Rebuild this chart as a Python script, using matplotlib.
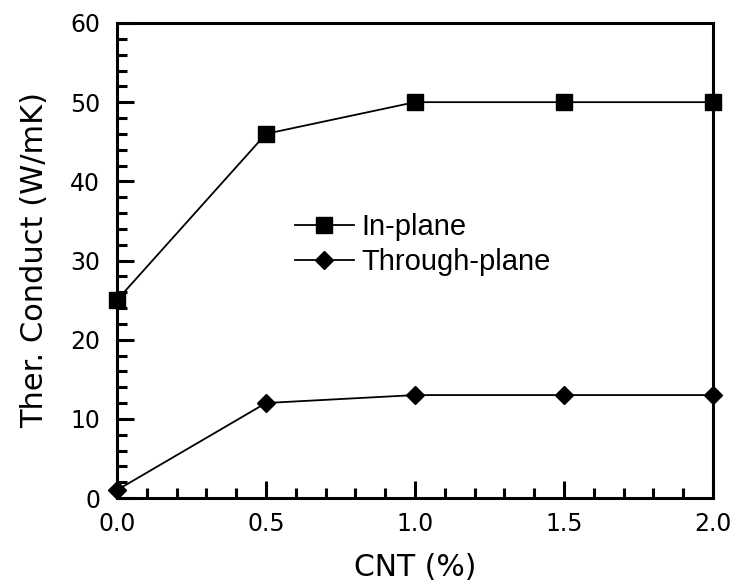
import matplotlib
matplotlib.use("Agg")
import matplotlib.pyplot as plt
from matplotlib.ticker import MultipleLocator

cnt = [0.0, 0.5, 1.0, 1.5, 2.0]
in_plane = [25, 46, 50, 50, 50]
through_plane = [1, 12, 13, 13, 13]

fig = plt.figure(figsize=(7.36, 5.86), dpi=100)
ax = fig.add_axes([117 / 736, 1 - 498 / 586, (713 - 117) / 736, (498 - 23) / 586])

ax.plot(cnt, in_plane, color="black", lw=1.3, marker="s", ms=12,
        label="In-plane", clip_on=False, zorder=3)
ax.plot(cnt, through_plane, color="black", lw=1.3, marker="D", ms=9.5,
        label="Through-plane", clip_on=False, zorder=3)

ax.set_xlim(0, 2.0)
ax.set_ylim(0, 60)
ax.xaxis.set_major_locator(MultipleLocator(0.5))
ax.xaxis.set_minor_locator(MultipleLocator(0.1))
ax.yaxis.set_major_locator(MultipleLocator(10))
ax.yaxis.set_minor_locator(MultipleLocator(2))
ax.xaxis.set_major_formatter(plt.FuncFormatter(lambda v, p: f"{v:.1f}"))

for s in ax.spines.values():
    s.set_linewidth(2.2)
ax.tick_params(which="both", direction="in", width=2.2, top=False, right=False,
               labelsize=17)
ax.tick_params(axis="x", pad=10)
ax.tick_params(axis="y", pad=12)
ax.tick_params(which="major", length=12)
ax.tick_params(which="minor", length=7)

ax.set_xlabel("CNT (%)", fontsize=21.5, labelpad=12)
ax.set_ylabel("Ther. Conduct (W/mK)", fontsize=22, labelpad=15)

leg = ax.legend(loc="upper left", bbox_to_anchor=(0.299, 0.60), frameon=False,
                prop={"family": "Liberation Sans", "size": 21},
                handlelength=2.0, handletextpad=0.28, labelspacing=0.25,
                borderaxespad=0, borderpad=0)

fig.savefig("out.png", dpi=100)
